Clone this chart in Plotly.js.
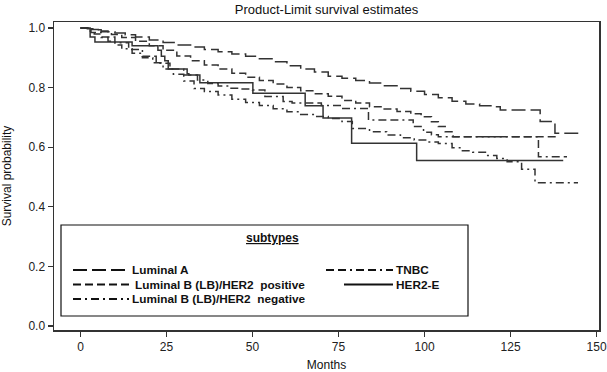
<!DOCTYPE html>
<html>
<head>
<meta charset="utf-8">
<script src="https://cdn.plot.ly/plotly-3.0.1.min.js"></script>
<style>
html,body{margin:0;padding:0;background:#fff;}
#chart{width:607px;height:372px;}
</style>
</head>
<body>
<div id="chart"></div>
<script>
// ---- data ----
const lumA_months = [0,2,4,6,8,10,13,16,20,24,28,32,36,40,44,48,52,56,60,64,68,72,76,80,84,88,92,96,100,104,108,112,116,120,122,133.6,137.9,145];
const lumA_surv   = [1.0,0.997,0.994,0.990,0.987,0.983,0.977,0.970,0.960,0.951,0.943,0.936,0.928,0.920,0.913,0.905,0.897,0.887,0.873,0.862,0.852,0.838,0.831,0.824,0.815,0.806,0.797,0.788,0.777,0.766,0.754,0.745,0.739,0.736,0.725,0.686,0.647,0.647];

const lbPos_months = [0,3,6,9,12,16,20,24,28,32,36,40,44,48,52,56,60,64,68,72,76,80,84,88,92,96,99,102,104,106,108.3,138.5];
const lbPos_surv   = [1.0,0.995,0.987,0.978,0.968,0.955,0.940,0.925,0.906,0.890,0.876,0.862,0.848,0.835,0.824,0.812,0.800,0.789,0.779,0.771,0.757,0.748,0.736,0.728,0.720,0.712,0.702,0.685,0.669,0.652,0.635,0.635];

const lbNeg_months = [0,2,4,6,8,10,12,15,18,21,24,27,30,33,36,40,44,48,52,56,60,64,68,72,76,79,84,89,93,97,101,104,108,111,114,118,121,124,128.2,132.1,144.6];
const lbNeg_surv   = [1.0,0.99,0.98,0.968,0.955,0.943,0.93,0.915,0.9,0.883,0.862,0.845,0.822,0.797,0.787,0.775,0.761,0.750,0.740,0.729,0.719,0.710,0.703,0.696,0.686,0.663,0.652,0.641,0.632,0.624,0.617,0.612,0.598,0.588,0.583,0.572,0.562,0.551,0.526,0.481,0.481];

const tnbc_months = [0,3,6,10,14,18,22,26,30,34,37,40,43,46,50,53.6,58.9,61.5,70,76,83.7,96.7,99.7,102,104,133.1,141.4];
const tnbc_surv   = [1.0,0.985,0.97,0.95,0.928,0.905,0.882,0.862,0.842,0.825,0.814,0.805,0.798,0.795,0.792,0.770,0.753,0.748,0.740,0.730,0.691,0.669,0.650,0.642,0.635,0.568,0.568];

const her2_months = [0,2.8,4.2,15,22.5,23.5,24.5,25.5,31,31.5,34.7,50.1,65.3,70.5,78.8,97.7,140.3];
const her2_surv   = [1.0,0.97,0.953,0.94,0.925,0.905,0.89,0.862,0.846,0.842,0.816,0.781,0.739,0.698,0.613,0.555,0.555];

const xTicks = [0,25,50,75,100,125,150];
const yTicks = [0.0,0.2,0.4,0.6,0.8,1.0];

const legendTitle = 'subtypes';
const names = ['Luminal A','Luminal B (LB)/HER2\u00a0\u00a0positive','Luminal B (LB)/HER2\u00a0\u00a0negative','TNBC','HER2-E'];

// ---- styling ----
const INK = '#333333';
const FONT = 'Liberation Sans, Arial, sans-serif';
const dashes = ['14px,5px','8px,4px','8px,4px,2px,4px','8px,4px,8px,4px,2px,4px','solid'];
const series = [
  [lumA_months, lumA_surv],
  [lbPos_months, lbPos_surv],
  [lbNeg_months, lbNeg_surv],
  [tnbc_months, tnbc_surv],
  [her2_months, her2_surv]
];

const traces = series.map((s,i)=>({
  x: s[0], y: s[1], type:'scatter', mode:'lines', name:names[i],
  line:{shape:'hv', color:INK, width:1.5, dash:dashes[i]},
  showlegend:false, hoverinfo:'skip'
}));

// ---- manual legend (box + samples + labels), in paper coords ----
const L=54, R=599, T=22, B=330;
const px = v => (v-L)/(R-L);
const py = v => (B-v)/(B-T);

const shapes = [
  {type:'rect', xref:'paper', yref:'paper', x0:px(61), x1:px(468), y0:py(316), y1:py(225),
   line:{color:'#111', width:1.2}, fillcolor:'rgba(0,0,0,0)'}
];
const annotations = [
  {xref:'paper', yref:'paper', x:px(272), y:py(238), text:'<b><u>'+legendTitle+'</u></b>', showarrow:false,
   font:{family:FONT, size:12, color:'#111'}, xanchor:'center', yanchor:'middle'}
];
const rowsY = [270, 284.5, 299, 270, 284.5];
const sampleX = [[73,127],[73,133],[73,129],[326,393],[344,393]];
const textX = [130, 133, 130, 394, 394];
names.forEach((n,i)=>{
  shapes.push({type:'line', xref:'paper', yref:'paper', x0:px(sampleX[i][0]), x1:px(sampleX[i][1]),
    y0:py(rowsY[i]), y1:py(rowsY[i]), line:{color:'#111', width:2, dash:dashes[i]}});
  annotations.push({xref:'paper', yref:'paper', x:px(textX[i]), y:py(rowsY[i]), text:'<b>'+n+'</b>',
    showarrow:false, xanchor:'left', yanchor:'middle',
    font:{family:FONT, size:11.8, color:'#111'}});
});

const layout = {
  width:607, height:372,
  margin:{l:L, r:607-R, t:T, b:372-B, pad:0},
  paper_bgcolor:'#fff', plot_bgcolor:'#fff',
  font:{family:FONT, size:11, color:'#222'},
  title:{text:'Product-Limit survival estimates', x:0.5, xref:'paper', xanchor:'center',
    y:(372-9)/372, yref:'container', yanchor:'middle',
    font:{family:FONT, size:13, color:'#111'}},
  xaxis:{range:[-7.7,150.7], tickvals:xTicks, ticktext:xTicks.map(String), ticks:'outside', ticklen:5, tickwidth:1.2, tickcolor:INK,
    showline:true, mirror:true, linecolor:INK, linewidth:1.5, showgrid:false, zeroline:false,
    title:{text:'Months', standoff:8, font:{size:12, color:'#111'}}, tickfont:{size:12, color:'#222'}},
  yaxis:{range:[-0.0134,1.020], tickvals:yTicks, ticktext:yTicks.map(v=>v.toFixed(1)), ticks:'outside', ticklen:5, tickwidth:1.2, tickcolor:INK,
    showline:true, mirror:true, linecolor:INK, linewidth:1.5, showgrid:false, zeroline:false,
    title:{text:'Survival probability', standoff:14, font:{size:12, color:'#111'}}, tickfont:{size:12, color:'#222'}},
  shapes:shapes, annotations:annotations, showlegend:false
};

Plotly.newPlot('chart', traces, layout, {staticPlot:true, displayModeBar:false});
</script>
</body>
</html>
